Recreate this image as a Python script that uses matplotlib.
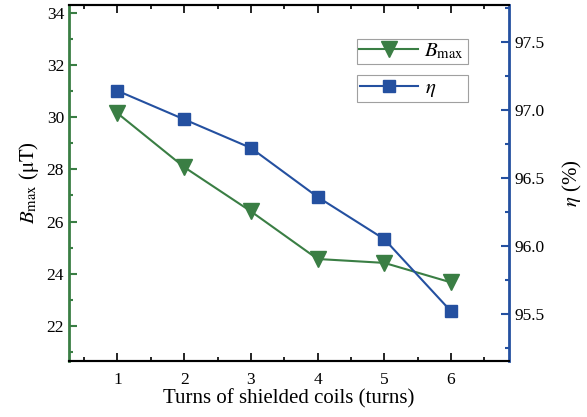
import matplotlib
matplotlib.use('Agg')
import matplotlib.pyplot as plt
from matplotlib.ticker import MultipleLocator

# data
turns = [1, 2, 3, 4, 5, 6]
b_max = [30.16, 28.09, 26.39, 24.56, 24.41, 23.66]
eta = [97.14, 96.93, 96.72, 96.36, 96.05, 95.52]

green = '#3A7E44'
blue = '#2450A0'

plt.rcParams['font.family'] = ['Liberation Serif', 'DejaVu Serif']
plt.rcParams['mathtext.fontset'] = 'stix'

fig = plt.figure(figsize=(5.87, 4.17), dpi=100)
ax = fig.add_axes([0.1175, 0.1343, 0.7502, 0.8537])
ax2 = ax.twinx()

l1, = ax.plot(turns, b_max, color=green, lw=1.5, marker='v', ms=12,
              markeredgecolor=green, label=r'$B_{\mathrm{max}}$')
l2, = ax2.plot(turns, eta, color=blue, lw=1.5, marker='s', ms=9,
               markeredgecolor=blue, label=r'$\eta$')

ax.set_xlim(0.273, 6.874)
ax.set_ylim(20.64, 34.32)
ax2.set_ylim(95.155, 97.77)

ax.xaxis.set_major_locator(MultipleLocator(1))
ax.xaxis.set_minor_locator(MultipleLocator(0.5))
ax.yaxis.set_major_locator(MultipleLocator(2))
ax.yaxis.set_minor_locator(MultipleLocator(1))
ax2.yaxis.set_major_locator(MultipleLocator(0.5))
ax2.yaxis.set_minor_locator(MultipleLocator(0.25))
ax2.yaxis.set_major_formatter(matplotlib.ticker.FormatStrFormatter('%.1f'))

ax.tick_params(axis='x', which='both', direction='in', top=True, labelsize=12.5,
               color='black', width=1.2, pad=8)
ax.tick_params(axis='x', which='major', length=6)
ax.tick_params(axis='x', which='minor', length=3)
ax.tick_params(axis='y', which='both', direction='in', color=green, width=1.5,
               labelsize=12.5)
ax.tick_params(axis='y', which='major', length=6)
ax.tick_params(axis='y', which='minor', length=3)
ax2.tick_params(axis='y', which='both', direction='in', color=blue, width=1.5,
                labelsize=12.5)
ax2.tick_params(axis='y', which='major', length=6)
ax2.tick_params(axis='y', which='minor', length=3)

for a in (ax, ax2):
    a.spines['top'].set_linewidth(1.5)
    a.spines['bottom'].set_linewidth(1.5)
ax.spines['left'].set_color(green)
ax.spines['left'].set_linewidth(2)
ax2.spines['left'].set_visible(False)
ax2.spines['right'].set_color(blue)
ax2.spines['right'].set_linewidth(2)
ax.spines['right'].set_visible(False)

ax.set_xlabel('Turns of shielded coils (turns)', fontsize=15, labelpad=1)
ax.set_ylabel(r'$B_{\mathrm{max}}$ ($\mathrm{\mu T}$)', fontsize=15, labelpad=4)
ax2.set_ylabel(r'$\eta$ (%)', fontsize=15, labelpad=12)

# two separate legend boxes, same width
leg_kw = dict(loc='upper left', mode='expand', frameon=True, fancybox=False,
              edgecolor='#888888', fontsize=15, handlelength=2.8,
              handletextpad=0.3, borderaxespad=0)
leg1 = ax2.legend(handles=[l1], bbox_to_anchor=(0.654, 0.894, 0.252, 0.01),
                  borderpad=0.12, **leg_kw)
leg1.get_frame().set_linewidth(0.8)
ax2.add_artist(leg1)
leg2 = ax2.legend(handles=[l2], bbox_to_anchor=(0.654, 0.793, 0.252, 0.01),
                  borderpad=0.15, **leg_kw)
leg2.get_frame().set_linewidth(0.8)

fig.savefig('out.png', dpi=100)
